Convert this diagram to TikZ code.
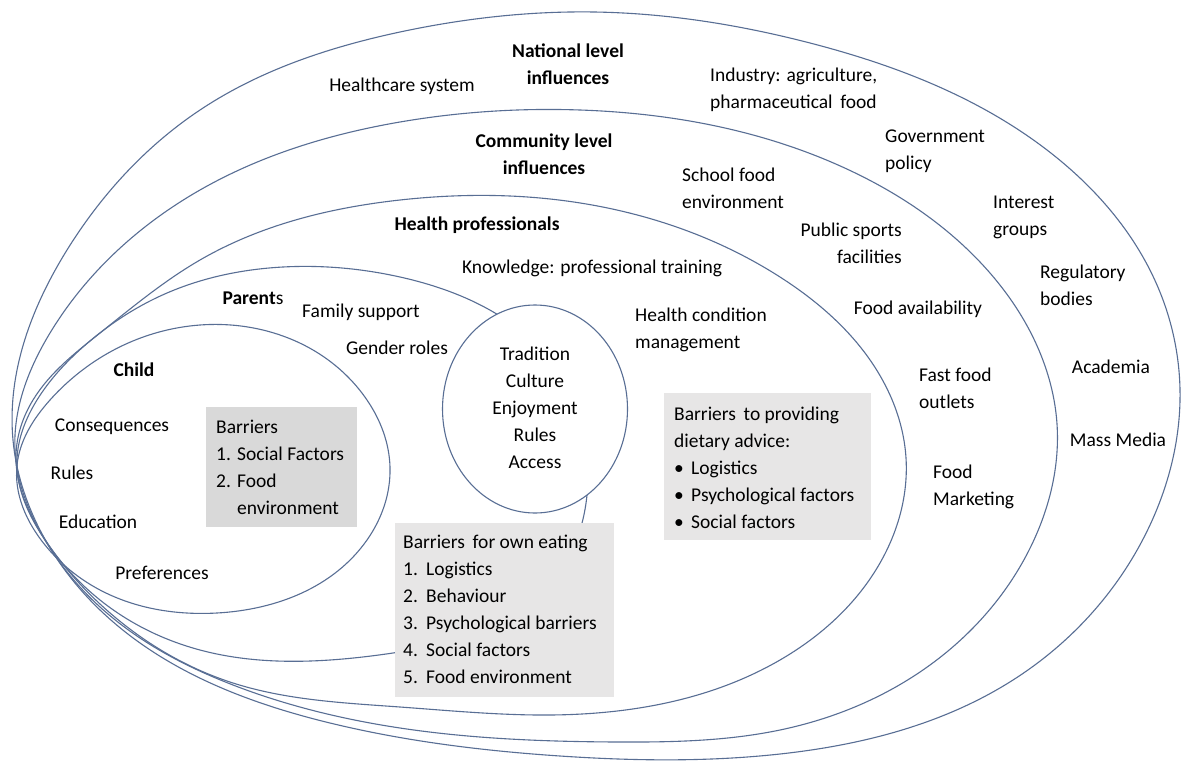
\documentclass[tikz,border=0pt]{standalone}
\usepackage{fontspec}
\setmainfont{Carlito}
\usetikzlibrary{shapes.geometric,hobby}
\definecolor{ringblue}{RGB}{88,110,148}
\definecolor{boxdark}{RGB}{217,217,217}
\definecolor{boxlight}{RGB}{231,230,230}
\begin{document}
\begin{tikzpicture}[x=1pt,y=-1pt,
  ring/.style={draw=ringblue, line width=1.1pt},
  lbl/.style={inner sep=0pt, font=\fontsize{19.5}{27}\selectfont},
  lblL/.style={lbl, align=left, anchor=west},
  head/.style={lbl, font=\fontsize{19.5}{27}\selectfont\bfseries, align=center},
  panel/.style={inner sep=0pt, anchor=north west, draw=none}
]
% canvas
\fill[white] (0,0) rectangle (1182,760);
\useasboundingbox (0,0) rectangle (1182,760);

% national level ring
\draw[ring] plot[closed hobby] coordinates {
  (13,440) (67,250) (200,110) (400,32) (594,12) (810,43) (1047,150)
  (1157,285) (1180,390) (1150,525) (1013,680) (780,754) (560,756)
  (330,723) (100,610) (40,530)};

% community level ring
\draw[ring] plot[closed hobby] coordinates {
  (15,450) (50,333) (200,190) (400,122) (580,110) (849,170) (980,262)
  (1047,372) (1057,424) (1033,542) (930,665) (780,730) (617,742)
  (400,728) (233,685) (100,607) (42,535)};

% health professionals ring
\draw[ring] plot[closed hobby] coordinates {
  (16,455) (33,400) (100,333) (200,260) (400,200) (540,198) (780,277)
  (890,395) (906,458) (880,563) (780,660) (550,715) (400,707)
  (233,683) (100,604) (44,538)};

% parents ring
\draw[ring] plot[closed hobby] coordinates {
  (17,460) (37,400) (83,347) (167,293) (283,267) (400,277) (495,313)
  (570,390) (588,470) (580,530) (540,595) (393,653) (330,660)
  (200,650) (100,600) (45,540)};

% child ring
\draw[ring] plot[closed hobby] coordinates {
  (17,465) (50,400) (200,325) (367,400) (390,467) (367,540) (217,613)
  (100,590) (45,545)};

% shared values circle
\node[draw=ringblue, line width=1.1pt, fill=white, ellipse, inner sep=0pt,
      minimum width=185pt, minimum height=208pt] (core) at (535,409) {};
\node[lbl, align=center] (coretxt) at (535,408)
  {Tradition\\Culture\\Enjoyment\\Rules\\Access};

% grey panels
\node[panel, fill=boxdark, minimum width=151pt, minimum height=120pt]
  (childbar) at (206,407) {};
\node[panel, fill=boxlight, minimum width=219pt, minimum height=174pt]
  (ownbar) at (395,523) {};
\node[panel, fill=boxlight, minimum width=207pt, minimum height=147pt]
  (advbar) at (664,393) {};

\node[lblL] (childbartxt) at (216,467)
  {Barriers\\\makebox[21pt][l]{1.}Social Factors\\\makebox[21pt][l]{2.}Food\\\hspace*{21pt}environment};
\node[lblL] (ownbartxt) at (403,609.5)
  {Barriers\, for own eating\\\makebox[23pt][l]{1.}Logistics\\\makebox[23pt][l]{2.}Behaviour\\\makebox[23pt][l]{3.}Psychological barriers\\\makebox[23pt][l]{4.}Social factors\\\makebox[23pt][l]{5.}Food environment};
\node[lblL] (advbartxt) at (674,467.5)
  {Barriers\, to providing\\dietary advice:\\\makebox[17pt][l]{•}Logistics\\\makebox[17pt][l]{•}Psychological factors\\\makebox[17pt][l]{•}Social factors};

% national level
\node[head] (natl) at (568,64) {National level\\influences};
\node[lbl] (hcs) at (402,86) {Healthcare system};
\node[lblL] (ind) at (710,90) {Industry: agriculture,\\pharmaceutical\, food};
\node[lblL] (gov) at (885,151) {Government\\policy};
\node[lblL] (intg) at (993,217) {Interest\\groups};
\node[lblL] (reg) at (1040,285) {Regulatory\\bodies};
\node[lbl] (acad) at (1111,367) {Academia};
\node[lbl] (media) at (1118,440) {Mass Media};

% community level
\node[head] (comm) at (544,154) {Community level\\influences};
\node[lblL] (school) at (682,188) {School food\\environment};
\node[lbl, align=right, anchor=east] (sport) at (902,243) {Public sports\\facilities};
\node[lbl] (avail) at (918,309) {Food availability};
\node[lblL] (fast) at (919,388) {Fast food\\outlets};
\node[lblL] (mkt) at (933,487) {Food\\Marketing};

% health professionals
\node[head] (hp) at (477,225) {Health professionals};
\node[lbl] (know) at (592,268) {Knowledge: professional training};
\node[lblL] (cond) at (635,330) {Health condition\\management};

% parents
\node[lbl] (par) at (253,298) {\textbf{Parent}s};
\node[lbl] (fam) at (361,312) {Family support};
\node[lbl] (gen) at (397,348) {Gender roles};

% child
\node[head] (child) at (134,370) {Child};
\node[lbl] (cons) at (112,427) {Consequences};
\node[lbl] (rules) at (72,473) {Rules};
\node[lbl] (edu) at (98,522) {Education};
\node[lbl] (pref) at (162,573) {Preferences};
\end{tikzpicture}
\end{document}
